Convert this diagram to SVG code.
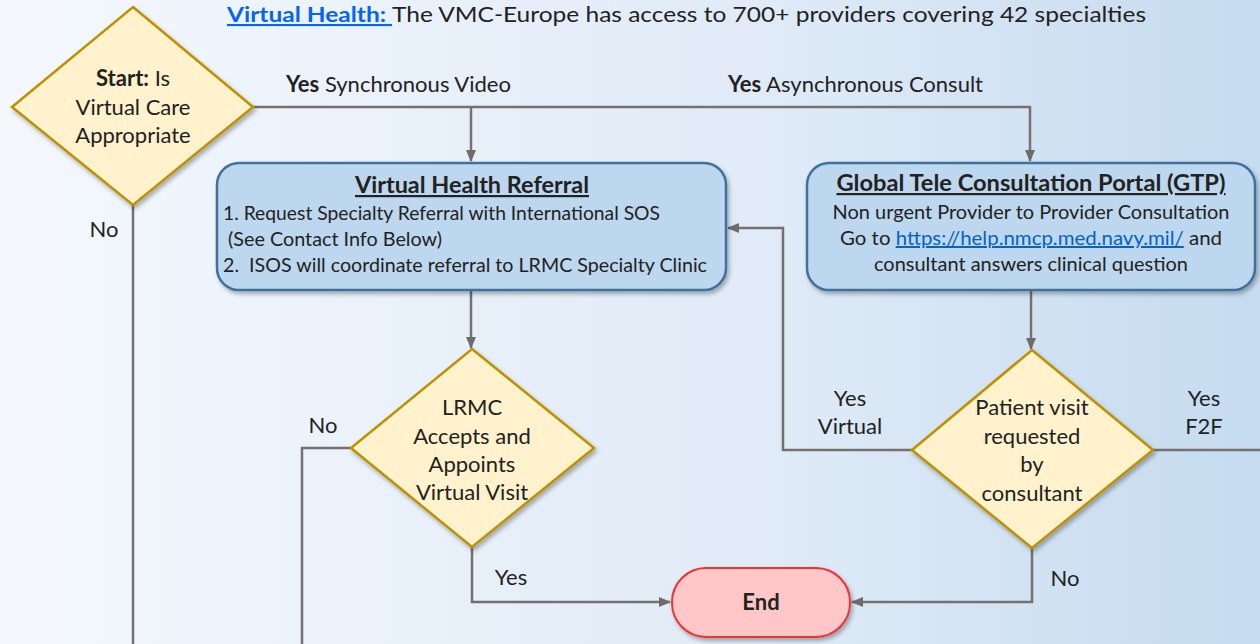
<svg xmlns="http://www.w3.org/2000/svg" width="1260" height="644" viewBox="0 0 1260 644">
<defs>
<linearGradient id="bg" x1="0" y1="0" x2="1" y2="0">
<stop offset="0" stop-color="#f4f8fd"/>
<stop offset="0.6" stop-color="#e0ebf7"/>
<stop offset="1" stop-color="#c5dbef"/>
</linearGradient>
<filter id="sh" x="-10%" y="-10%" width="125%" height="130%">
<feDropShadow dx="2" dy="3" stdDeviation="2" flood-color="#000" flood-opacity="0.3"/>
</filter>
<marker id="ar" markerWidth="12" markerHeight="10" refX="11" refY="5" orient="auto" markerUnits="userSpaceOnUse">
<path d="M0,0 L12,5 L0,10 Z" fill="#6f6b6b"/>
</marker>
</defs>
<style>
text{font-family:Lato,"Open Sans","Liberation Sans",sans-serif;fill:#222;}
.dia{fill:#fff2cc;stroke:#bf9000;stroke-width:2.5;filter:url(#sh);}
.box{fill:#bdd7ee;stroke:#41719c;stroke-width:2.5;filter:url(#sh);}
.end{fill:#ffc7c7;stroke:#f03030;stroke-width:2;filter:url(#sh);}
.c{fill:none;stroke:#767171;stroke-width:2.5;}
.t{font-size:22px;text-anchor:middle;}
.l{font-size:22px;}
.b{font-size:20px;}
.h{font-size:22px;font-weight:bold;text-decoration:underline;text-anchor:middle;}
</style>
<rect width="1260" height="644" fill="url(#bg)"/>
<text x="227" y="22" style="font-size:21px" textLength="919" lengthAdjust="spacingAndGlyphs"><tspan font-weight="bold" text-decoration="underline" style="fill:#0563f5">Virtual Health: </tspan><tspan>The VMC-Europe has access to 700+ providers covering 42 specialties</tspan></text>

<g id="connectors">
<path class="c" d="M253,107 H1030 V161" marker-end="url(#ar)"/>
<path class="c" d="M471,107 V161" marker-end="url(#ar)"/>
<path class="c" d="M133,205 V644"/>
<path class="c" d="M471,290 V348" marker-end="url(#ar)"/>
<path class="c" d="M1031,290 V349" marker-end="url(#ar)"/>
<path class="c" d="M351,448 H302 V644"/>
<path class="c" d="M472,547 V602 H670" marker-end="url(#ar)"/>
<path class="c" d="M912,450 H783 V228 H728" marker-end="url(#ar)"/>
<path class="c" d="M1153,450 H1260"/>
<path class="c" d="M1032,548 V602 H852" marker-end="url(#ar)"/>
<text class="l" x="286" y="92" textLength="225" lengthAdjust="spacingAndGlyphs"><tspan font-weight="bold">Yes</tspan> Synchronous Video</text>
<text class="l" x="728" y="92" textLength="255" lengthAdjust="spacingAndGlyphs"><tspan font-weight="bold">Yes</tspan> Asynchronous Consult</text>
<text class="t" x="104" y="237">No</text>
<text class="t" x="323" y="433">No</text>
<text class="t" x="511" y="585">Yes</text>
<text class="t" x="850" y="406">Yes</text>
<text class="t" x="850" y="434">Virtual</text>
<text class="t" x="1204" y="406">Yes</text>
<text class="t" x="1204" y="434">F2F</text>
<text class="t" x="1065" y="586">No</text>
</g>

<g id="start">
<polygon class="dia" points="133,7 253,107 133,205 12,107"/>
<text class="t" x="133" y="86"><tspan font-weight="bold">Start:</tspan> Is</text>
<text class="t" x="133" y="115">Virtual Care</text>
<text class="t" x="133" y="143">Appropriate</text>
</g>

<g id="vhr">
<rect class="box" x="217" y="163" width="509" height="127" rx="22"/>
<text class="h" x="472" y="193" textLength="234" lengthAdjust="spacingAndGlyphs">Virtual Health Referral</text>
<text class="b" x="223" y="220" textLength="437" lengthAdjust="spacingAndGlyphs">1. Request Specialty Referral with International SOS</text>
<text class="b" x="228" y="246" textLength="214" lengthAdjust="spacingAndGlyphs">(See Contact Info Below)</text>
<text class="b" x="223" y="272" xml:space="preserve" textLength="484" lengthAdjust="spacingAndGlyphs">2.  ISOS will coordinate referral to LRMC Specialty Clinic</text>
</g>

<g id="gtp">
<rect class="box" x="807" y="163" width="448" height="127" rx="22"/>
<text class="h" x="1031" y="191" textLength="389" lengthAdjust="spacingAndGlyphs">Global Tele Consultation Portal (GTP)</text>
<text class="b" x="1031" y="219" text-anchor="middle" textLength="397" lengthAdjust="spacingAndGlyphs">Non urgent Provider to Provider Consultation</text>
<text class="b" x="1031" y="245" text-anchor="middle" textLength="382" lengthAdjust="spacingAndGlyphs">Go to <tspan text-decoration="underline" style="fill:#0563c1">https://help.nmcp.med.navy.mil/</tspan> and</text>
<text class="b" x="1031" y="271" text-anchor="middle" textLength="314" lengthAdjust="spacingAndGlyphs">consultant answers clinical question</text>
</g>

<g id="lrmc">
<polygon class="dia" points="472,349 594,448 472,547 351,448"/>
<text class="t" x="472" y="415">LRMC</text>
<text class="t" x="472" y="444">Accepts and</text>
<text class="t" x="472" y="472">Appoints</text>
<text class="t" x="472" y="500">Virtual Visit</text>
</g>

<g id="patient">
<polygon class="dia" points="1032,350 1153,450 1032,548 912,450"/>
<text class="t" x="1032" y="415">Patient visit</text>
<text class="t" x="1032" y="444">requested</text>
<text class="t" x="1032" y="472">by</text>
<text class="t" x="1032" y="501">consultant</text>
</g>

<g id="end">
<rect class="end" x="672" y="568" width="178" height="69" rx="34"/>
<text class="t" x="761" y="610" font-weight="bold">End</text>
</g>
</svg>
